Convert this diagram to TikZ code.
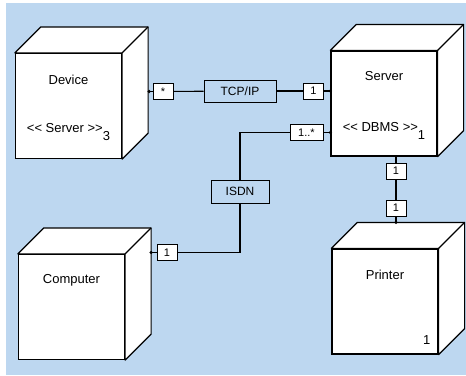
\documentclass[tikz,border=0pt]{standalone}
\usepackage{fontspec}
\setmainfont{Liberation Sans}
\usetikzlibrary{positioning}
\definecolor{bgblue}{RGB}{189,215,240}
\newcommand{\stleft}{\textless\kern0pt\textless}
\newcommand{\stright}{\textgreater\kern0pt\textgreater}

\begin{document}
\begin{tikzpicture}[x=1pt, y=-1pt,
        cube/.style={draw, fill=white, line width=1.2pt, minimum width=106pt, minimum height=105pt, inner sep=0pt},
        txt/.style={inner sep=0pt, font=\fontsize{13}{15}\selectfont},
        linkbox/.style={draw, line width=1pt, minimum width=72pt, minimum height=22pt, inner sep=0pt, font=\fontsize{12}{14}\selectfont},
        mult/.style={draw, fill=white, line width=1pt, minimum width=20pt, minimum height=16pt, inner sep=1pt, font=\fontsize{11}{13}\selectfont},
        wire/.style={draw, line width=1.1pt}
    ]
    \useasboundingbox (0,0) rectangle (466,375);
    \fill[bgblue] (6,3) rectangle (466,375);

    % Cubes (front faces)
    \node[cube] (dev) at (68.5,106) {};
    \node[cube] (srv) at (384,103.5) {};
    \node[cube] (comp) at (71.5,307) {};
    \node[cube] (prt) at (385,301.5) {};

    % top and side faces
    \foreach \c in {dev,srv,comp,prt}{
        \draw[line width=1.2pt, fill=white, line join=round] (\c.north west) -- ++(26,-26) -- ([shift={(26,-26)}]\c.north east) -- ([shift={(26,-26)}]\c.south east) -- (\c.south east) -- (\c.north east) -- cycle;
        \draw[line width=1.2pt] (\c.north east) -- ++(26,-26);
    }

    % Texts
    \node[txt] (devname) at ([yshift=-27pt]dev.north) {Device};
    \node[txt] (devtype) at ([yshift=27pt]dev.south) {\stleft\ Server \stright\raisebox{-8pt}{3}};
    \node[txt] (srvname) at ([yshift=-26pt]srv.north) {Server};
    \node[txt] (srvtype) at ([yshift=26pt]srv.south) {\stleft\ DBMS \stright\raisebox{-8pt}{1}};
    \node[txt] (compname) at ([yshift=-26pt]comp.north) {Computer};
    \node[txt] (prtname) at ([yshift=-26pt]prt.north) {Printer};
    \node[txt, anchor=south east] (prtnum) at ([xshift=-8pt, yshift=10pt]prt.south east) {1};

    % Connector labels
    \node[mult] (devm) at (163,91.5) {*};
    \node[linkbox] (tcp) at (240,91) {TCP/IP};
    \node[mult] (srvm1) at (313.5,91) {1};
    \node[mult, minimum width=33pt] (srvm2) at (306.5,132.5) {1..*};
    \node[linkbox, minimum width=58pt, minimum height=23pt] (isdn) at (240,191.5) {ISDN};
    \node[mult] (compm) at (167,252.5) {1};
    \node[mult] (srvm3) at (396,171) {1};
    \node[mult] (prtm) at (396,208) {1};

    % Ports
    \path ([xshift=27pt]dev.east) coordinate (devedge);
    \path ([xshift=26pt]comp.east) coordinate (compedge);
    \path ([yshift=26pt]prt.north) coordinate (prttop);
    \coordinate (devport) at (devedge |- devm);
    \coordinate (srvport1) at (srv.west |- srvm1);
    \coordinate (srvport2) at (srv.west |- srvm2);
    \coordinate (compport) at (compedge |- compm);
    \coordinate (srvbot) at (srvm3 |- srv.south);
    \coordinate (prtport) at (srvm3 |- prttop);

    % Edges
    \draw[wire] (devport) -- (devm);
    \draw[wire] (devm) -- (tcp);
    \draw[wire] (tcp) -- (srvm1);
    \draw[wire] (srvm1) -- (srvport1);

    \draw[wire] (srvport2) -- (srvm2);
    \draw[wire] (srvm2) -| (isdn);
    \draw[wire] (isdn) |- (compm);
    \draw[wire] (compm) -- (compport);

    \draw[wire] (srvbot) -- (srvm3);
    \draw[wire] (srvm3) -- (prtm);
    \draw[wire] (prtm) -- (prtport);

    \foreach \p in {devport,srvport1,srvport2,compport,prtport}
        \fill (\p) circle (1.8pt);
\end{tikzpicture}
\end{document}
